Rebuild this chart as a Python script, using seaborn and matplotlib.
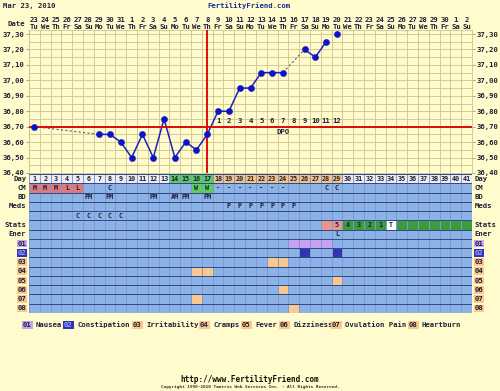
import numpy as np
import matplotlib.pyplot as plt
import matplotlib.transforms as mtransforms
from matplotlib.colors import ListedColormap
import seaborn as sns

# ---- chart data ----
date_nums = [23, 24, 25, 26, 27, 28, 29, 30, 31] + list(range(1, 31)) + [1, 2]
weekdays = ['Tu', 'We', 'Th', 'Fr', 'Sa', 'Su', 'Mo']

temp_days = [1, 7, 8, 9, 10, 11, 12, 13, 14, 15, 16, 17, 18, 19, 20, 21, 22, 23, 24, 26, 27, 28, 29]
temps = [36.70, 36.65, 36.65, 36.60, 36.50, 36.65, 36.50, 36.75, 36.50, 36.60, 36.55, 36.65,
         36.80, 36.80, 36.95, 36.95, 37.05, 37.05, 37.05, 37.20, 37.15, 37.25, 37.30]
solid_runs = [(7, 24), (26, 28)]
dashed_links = [(1, 7), (24, 26)]
coverline = 36.70
ovulation_day = 17
dpo_days = list(range(18, 30))
temp_ticks = [36.40, 36.50, 36.60, 36.70, 36.80, 36.90, 37.00, 37.10, 37.20, 37.30]

fertile_days = [14, 15, 16, 17]
luteal_days = list(range(18, 30))
cm_obs = {1: 'M', 2: 'M', 3: 'M', 4: 'L', 5: 'L', 8: 'C', 16: 'W', 17: 'W',
          18: '-', 19: '-', 20: '-', 21: '-', 22: '-', 23: '-', 24: '-', 28: 'C', 29: 'C'}
bd_obs = {6: 'PM', 8: 'PM', 12: 'PM', 14: 'AM', 15: 'PM', 17: 'PM'}
meds_obs = {19: 'P', 20: 'P', 21: 'P', 22: 'P', 23: 'P', 24: 'P', 25: 'P'}
extra_obs = {5: 'C', 6: 'C', 7: 'C', 8: 'C', 9: 'C'}
stats_obs = {28: '', 29: '5', 30: '4', 31: '3', 32: '2', 33: '1', 34: 'T',
             35: '', 36: '', 37: '', 38: '', 39: '', 40: '', 41: ''}
ener_obs = {29: 'L'}

symptom_codes = ['01', '02', '03', '04', '05', '06', '07', '08']
symptom_names = ['Nausea', 'Constipation', 'Irritability', 'Cramps', 'Fever',
                 'Dizziness', 'Ovulation Pain', 'Heartburn']
symptom_days = [[25, 26, 27, 28], [26, 29], [23, 24], [16, 17], [29], [24], [16], [25]]
row_labels = ['Day', 'CM', 'BD', 'Meds', '', 'Stats', 'Ener'] + symptom_codes

# ---- styling ----
BG = '#fffbcc'
TXT = '#202038'
GRID = '#cdc48e'
palette = ['#8db3e6', '#ececf2', '#5ccc5c', '#f6c282', '#e07a7a', '#c8a2f2',
           '#2e34b4', '#f8c88e', '#e8968c', '#3c9c3c', '#ffffff']
sym_color_idx = [5, 6, 7, 7, 7, 7, 7, 7]

sns.set_style('white')
plt.rcParams['font.family'] = ['DejaVu Sans Mono']
plt.rcParams['font.weight'] = 'bold'
FS = 5.2

W, H = 500, 391
fig = plt.figure(figsize=(W / 100, H / 100), dpi=100)
fig.patch.set_facecolor(BG)
n = len(date_nums)

# ---- temperature panel ----
ax = fig.add_axes([29 / W, 1 - 173 / H, 443 / W, 143 / H])
ax.set_facecolor(BG)
ax.set_xlim(0.5, n + 0.5)
ax.set_ylim(36.40, 37.326)
for x in np.arange(0.5, n + 1, 1):
    ax.axvline(x, color=GRID, lw=0.6, zorder=0)
for y in np.arange(36.40, 37.33, 0.05):
    ax.axhline(y, color=GRID, lw=0.6, zorder=0)
for s in ax.spines.values():
    s.set_color(GRID)
    s.set_linewidth(0.6)

ax.set_xticks([])
ax.set_yticks(temp_ticks)
ax.set_yticklabels([f'{t:.2f}'.replace('.', ',') for t in temp_ticks])
ax.tick_params(axis='y', labelright=True, right=True, left=True, length=2,
               width=0.5, color='#808080', labelsize=FS, pad=1, labelcolor=TXT)

temp_of = dict(zip(temp_days, temps))
for a, b in dashed_links:
    sns.lineplot(x=[a, b], y=[temp_of[a], temp_of[b]], ax=ax, color='#606060',
                 lw=0.8, linestyle=(0, (2, 2)), zorder=2)
for a, b in solid_runs:
    xs = [d for d in temp_days if a <= d <= b]
    sns.lineplot(x=xs, y=[temp_of[d] for d in xs], ax=ax, color='#1a22c0',
                 lw=1.1, sort=False, estimator=None, zorder=3)

ax.axhline(coverline, color='#dd0a0a', lw=1.4, zorder=4)
ax.axvline(ovulation_day, color='#dd0a0a', lw=1.4, zorder=4)
sns.scatterplot(x=temp_days, y=temps, ax=ax, s=20, color='#0c14c8',
                edgecolor='#0c14c8', linewidth=0.3, zorder=5)

for i, d in enumerate(dpo_days):
    ax.text(d, coverline + 0.035, str(i + 1), ha='center', va='center',
            fontsize=FS, color=TXT, zorder=6)
ax.text(24, coverline - 0.035, 'DPO', ha='center', va='center', fontsize=FS, color=TXT)

# date header
hdr = mtransforms.blended_transform_factory(ax.transData, fig.transFigure)
for i, dn in enumerate(date_nums):
    ax.text(i + 1, 1 - 20 / H, str(dn), transform=hdr, ha='center', va='center',
            fontsize=FS, color=TXT)
    ax.text(i + 1, 1 - 27 / H, weekdays[i % 7], transform=hdr, ha='center',
            va='center', fontsize=FS, color=TXT)
fig.text(25 / W, 1 - 24 / H, 'Date', ha='right', va='center', fontsize=FS, color=TXT)
fig.text(3 / W, 1 - 6 / H, 'Mar 23, 2010', ha='left', va='center', fontsize=FS, color=TXT)
fig.text(249 / W, 1 - 6 / H, 'FertilityFriend.com', ha='center', va='center',
         fontsize=FS, color='#1a2a9a')

# ---- observation grid ----
nrows = len(row_labels)
codes = np.zeros((nrows, n))
annot = np.full((nrows, n), '', dtype=object)
for d in range(1, n + 1):
    annot[0, d - 1] = str(d)
    codes[0, d - 1] = 2 if d in fertile_days else 3 if d in luteal_days else 1
for d, v in cm_obs.items():
    annot[1, d - 1] = v
    if v in ('M', 'L'):
        codes[1, d - 1] = 4
    elif v == 'W':
        codes[1, d - 1] = 2
for d, v in bd_obs.items():
    annot[2, d - 1] = v
for d, v in meds_obs.items():
    annot[3, d - 1] = v
for d, v in extra_obs.items():
    annot[4, d - 1] = v
for d, v in stats_obs.items():
    annot[5, d - 1] = v
    codes[5, d - 1] = 10 if v == 'T' else 8 if d <= 29 else 9
for d, v in ener_obs.items():
    annot[6, d - 1] = v
for k, ds in enumerate(symptom_days):
    for d in ds:
        codes[7 + k, d - 1] = sym_color_idx[k]

ax2 = fig.add_axes([29 / W, 1 - 313 / H, 443 / W, 139 / H])
sns.heatmap(codes, ax=ax2, cmap=ListedColormap(palette), vmin=-0.5,
            vmax=len(palette) - 0.5, cbar=False, linewidths=0.4, linecolor='#7c9ad0',
            annot=annot, fmt='', annot_kws={'fontsize': FS - 0.3, 'color': TXT,
                                           'fontweight': 'bold'},
            xticklabels=False, yticklabels=False)
ax2.hlines(np.arange(1, nrows), 0, n, color='#2c4a8a', lw=0.7)
ax2.hlines([0, nrows], 0, n, color='#2c4a8a', lw=0.7)

for r, lab in enumerate(row_labels):
    kw = dict(va='center', fontsize=FS, color=TXT)
    if r >= 7:
        k = r - 7
        fc = palette[sym_color_idx[k]]
        kw['bbox'] = dict(boxstyle='square,pad=0.12', fc=fc, ec='none')
        if k == 1:
            kw['color'] = '#9aa0ff'
    ax2.text(-0.25, r + 0.5, lab, ha='right', **kw)
    ax2.text(n + 0.25, r + 0.5, lab, ha='left', **kw)

# ---- legend ----
legend_x = [23, 64, 133, 200, 242, 280, 332, 409]
for k, (code, name) in enumerate(zip(symptom_codes, symptom_names)):
    fc = palette[sym_color_idx[k]]
    fig.text(legend_x[k] / W, 1 - 325 / H, code, ha='left', va='center', fontsize=FS,
             color='#9aa0ff' if k == 1 else TXT,
             bbox=dict(boxstyle='square,pad=0.2', fc=fc, ec='none'))
    fig.text((legend_x[k] + 13) / W, 1 - 325 / H, name, ha='left', va='center',
             fontsize=FS, color=TXT)

fig.text(0.5, 1 - 379 / H, 'http://www.FertilityFriend.com', ha='center', va='center',
         fontsize=FS + 0.3, color='#101010')
fig.text(0.5, 1 - 387 / H,
         'Copyright 1998-2010 Tamtris Web Services Inc. - All Rights Reserved.',
         ha='center', va='center', fontsize=3.2, color='#303030')

fig.savefig('out.png', dpi=100, facecolor=BG)
